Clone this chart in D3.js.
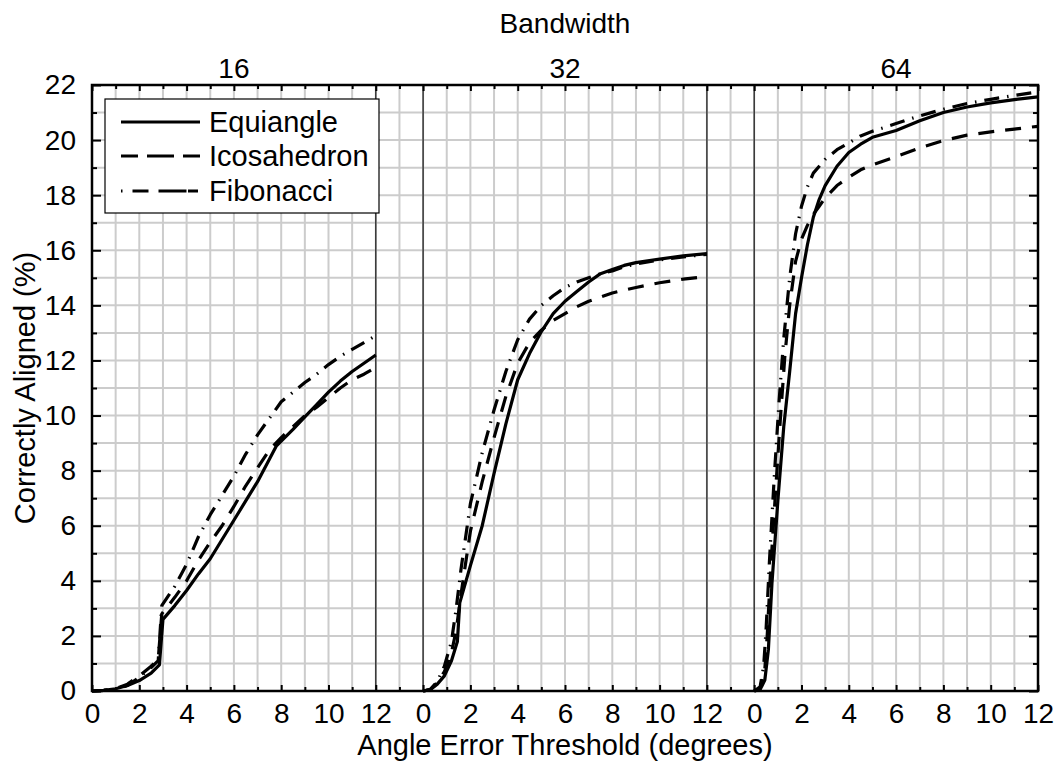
<!DOCTYPE html>
<html>
<head>
<meta charset="utf-8">
<script src="https://cdn.jsdelivr.net/npm/d3@7/dist/d3.min.js"></script>
<style>
  html, body { margin: 0; padding: 0; background: #fff; }
  svg { display: block; font-family: "Liberation Sans", Arial, Helvetica, sans-serif; }
</style>
</head>
<body>
<svg id="chart" width="1058" height="767"></svg>
<script>
// Bandwidth panels and sampling schemes
const bandwidths = [16, 32, 64];
const methods = ["Equiangle", "Icosahedron", "Fibonacci"];

// Axis ticks
const yTickLabels = [0, 2, 4, 6, 8, 10, 12, 14, 16, 18, 20, 22];
const xTickLabels = [0, 2, 4, 6, 8, 10, 12];

// Correctly aligned (%) vs. angle error threshold (degrees), bandwidth 16
const equiangle16 = [[0,0],[0.5,0.02],[1,0.08],[1.5,0.2],[2,0.38],[2.5,0.65],[2.85,0.95],[3.0,2.6],[3.5,3.1],[4,3.65],[4.5,4.25],[5,4.8],[5.5,5.5],[6,6.2],[6.5,6.9],[7,7.6],[7.8,8.9],[8.5,9.5],[9,9.95],[9.5,10.4],[10,10.85],[10.5,11.25],[11,11.6],[11.5,11.9],[12,12.2]];
const icosahedron16 = [[0,0],[0.5,0.02],[1,0.08],[1.5,0.25],[2,0.55],[2.5,0.9],[2.8,1.15],[2.95,2.8],[3.5,3.4],[4,4.0],[4.5,4.75],[5,5.4],[5.5,6.0],[6,6.7],[6.5,7.45],[7,8.1],[7.5,8.75],[8,9.2],[8.5,9.6],[9,10.0],[9.5,10.3],[10,10.65],[10.5,11.0],[11,11.3],[11.5,11.5],[12,11.75]];
const fibonacci16 = [[0,0],[0.5,0.02],[1,0.06],[1.5,0.2],[2,0.5],[2.5,0.85],[2.8,1.1],[2.95,3.1],[3.5,3.8],[4,4.6],[4.5,5.6],[5,6.4],[5.5,7.1],[6,7.8],[6.5,8.6],[7,9.3],[7.5,9.9],[8,10.5],[8.5,10.85],[9,11.2],[9.5,11.5],[10,11.85],[10.5,12.15],[11,12.4],[11.5,12.65],[12,12.9]];

// bandwidth 32
const equiangle32 = [[0,0],[0.3,0.05],[0.6,0.25],[0.9,0.55],[1.2,1.1],[1.45,1.8],[1.55,3.2],[2,4.55],[2.5,6.0],[3,7.9],[3.5,9.7],[4,11.3],[4.5,12.25],[5,13.05],[5.5,13.7],[6,14.15],[6.5,14.5],[7,14.85],[7.5,15.15],[8,15.3],[8.5,15.45],[9,15.55],[9.5,15.62],[10,15.68],[11,15.8],[12,15.88]];
const icosahedron32 = [[0,0],[0.3,0.05],[0.6,0.3],[0.9,0.7],[1.2,1.4],[1.4,2.2],[1.6,3.5],[2,5.8],[2.5,7.6],[3,9.2],[3.5,10.7],[4,11.9],[4.5,12.65],[5,13.1],[5.5,13.45],[6,13.7],[6.5,13.95],[7,14.15],[7.5,14.3],[8,14.45],[8.5,14.55],[9,14.65],[10,14.82],[11,14.95],[12,15.05]];
const fibonacci32 = [[0,0],[0.3,0.05],[0.6,0.35],[0.9,0.9],[1.2,1.8],[1.4,3.0],[1.6,4.4],[2,6.8],[2.5,8.65],[3,10.2],[3.5,11.6],[4,12.75],[4.5,13.5],[5,14.0],[5.5,14.35],[6,14.65],[6.5,14.85],[7,15.0],[7.5,15.15],[8,15.25],[8.5,15.4],[9,15.5],[9.5,15.58],[10,15.65],[11,15.76],[12,15.85]];

// bandwidth 64
const equiangle64 = [[0,0],[0.25,0.05],[0.45,0.4],[0.6,1.5],[0.75,3.9],[1,6.9],[1.25,9.6],[1.5,11.6],[1.75,13.7],[2,15.0],[2.25,16.2],[2.5,17.2],[2.75,17.85],[3,18.35],[3.5,19.05],[4,19.55],[4.5,19.85],[5,20.1],[6,20.35],[7,20.7],[8,21.0],[9,21.2],[10,21.35],[11,21.47],[12,21.57]];
const icosahedron64 = [[0,0],[0.25,0.1],[0.45,0.8],[0.55,2.0],[0.7,4.5],[0.9,7.2],[1.1,9.8],[1.3,12.2],[1.5,14.0],[1.75,15.6],[2,16.4],[2.25,16.9],[2.5,17.3],[2.75,17.6],[3,17.9],[3.5,18.35],[4,18.65],[4.5,18.92],[5,19.1],[6,19.4],[7,19.72],[8,19.98],[9,20.18],[10,20.3],[11,20.4],[12,20.5]];
const fibonacci64 = [[0,0],[0.25,0.15],[0.4,0.9],[0.5,2.2],[0.65,4.8],[0.85,7.8],[1.05,10.5],[1.25,12.8],[1.5,15.0],[1.75,16.6],[2,17.6],[2.25,18.3],[2.5,18.8],[3,19.3],[3.5,19.65],[4,19.9],[4.5,20.15],[5,20.32],[6,20.6],[7,20.88],[8,21.12],[9,21.33],[10,21.48],[11,21.62],[12,21.75]];

const seriesByBandwidth = [
  [equiangle16, icosahedron16, fibonacci16],
  [equiangle32, icosahedron32, fibonacci32],
  [equiangle64, icosahedron64, fibonacci64]
];

// Line styles per sampling scheme
const dashes = [null, "16,11", "15,8,1.5,8"];
const legendDashes = [null, "17,9,27,9,17", "1.5,10,16,10,28"];

const svg = d3.select("#chart");
const plot = { left: 92, right: 1038, top: 85, bottom: 691 };
const tickFont = 28;
const labelFont = 29;

// Panels sit side by side on one shared axis: 12 degrees each, 2-degree gaps
const panelSpan = 12, panelGap = 2, panelStep = panelSpan + panelGap;
const xMax = panelStep * (bandwidths.length - 1) + panelSpan;

const x = d3.scaleLinear().domain([0, xMax]).range([plot.left, plot.right]);
const y = d3.scaleLinear().domain([0, 22]).range([plot.bottom, plot.top]);

const g = svg.append("g");

// grid
const unitX = d3.range(0, xMax + 1);
const unitY = d3.range(0, 23);
g.append("g").selectAll("line").data(unitX).join("line")
  .attr("x1", d => x(d)).attr("x2", d => x(d))
  .attr("y1", plot.top).attr("y2", plot.bottom)
  .attr("stroke", "#cccccc").attr("stroke-width", 2);
g.append("g").selectAll("line").data(unitY).join("line")
  .attr("x1", plot.left).attr("x2", plot.right)
  .attr("y1", d => y(d)).attr("y2", d => y(d))
  .attr("stroke", "#cccccc").attr("stroke-width", 2);

// panel boundaries
const bounds = [];
bandwidths.forEach((b, i) => {
  if (i > 0) bounds.push(i * panelStep);
  if (i < bandwidths.length - 1) bounds.push(i * panelStep + panelSpan);
});
g.append("g").selectAll("line").data(bounds).join("line")
  .attr("x1", d => x(d)).attr("x2", d => x(d))
  .attr("y1", plot.top).attr("y2", plot.bottom)
  .attr("stroke", "#222").attr("stroke-width", 1.3);

// data curves
const lines = g.append("g");
seriesByBandwidth.forEach((group, p) => {
  const off = p * panelStep;
  const line = d3.line().x(d => x(off + d[0])).y(d => y(d[1]));
  group.forEach((data, m) => {
    lines.append("path")
      .attr("d", line(data))
      .attr("fill", "none")
      .attr("stroke", "#000")
      .attr("stroke-width", 3.2)
      .attr("stroke-linejoin", "round")
      .attr("stroke-dasharray", dashes[m]);
  });
});

// frame
g.append("rect")
  .attr("x", plot.left).attr("y", plot.top)
  .attr("width", plot.right - plot.left).attr("height", plot.bottom - plot.top)
  .attr("fill", "none").attr("stroke", "#000").attr("stroke-width", 2.5);

// x axes (bottom with labels, top ticks only); ticks point inward
const labelFor = v => {
  const local = v % panelStep;
  return (local <= panelSpan && xTickLabels.includes(local)) ? String(local) : "";
};
const isMajorX = v => labelFor(v) !== "";

const xBottom = g.append("g").attr("transform", `translate(0,${plot.bottom})`)
  .call(d3.axisBottom(x).tickValues(unitX).tickFormat(labelFor).tickSizeInner(-6).tickSizeOuter(0).tickPadding(12));
const xTop = g.append("g").attr("transform", `translate(0,${plot.top})`)
  .call(d3.axisTop(x).tickValues(unitX).tickFormat("").tickSizeInner(-6).tickSizeOuter(0));
[xBottom, xTop].forEach((ax, i) => {
  ax.select(".domain").remove();
  ax.selectAll(".tick line")
    .attr("stroke", "#000").attr("stroke-width", 2)
    .attr("y2", d => (i === 0 ? -1 : 1) * (isMajorX(d) ? 6 : 4));
});
xBottom.selectAll(".tick text")
  .attr("font-size", tickFont).attr("fill", "#000")
  .attr("font-family", "Liberation Sans, Arial, sans-serif");

// y axes
const yLeft = g.append("g").attr("transform", `translate(${plot.left},0)`)
  .call(d3.axisLeft(y).tickValues(unitY).tickFormat(d => yTickLabels.includes(d) ? d : "").tickSizeOuter(0).tickPadding(10));
const yRight = g.append("g").attr("transform", `translate(${plot.right},0)`)
  .call(d3.axisRight(y).tickValues(unitY).tickFormat("").tickSizeOuter(0));
[yLeft, yRight].forEach((ax, i) => {
  ax.select(".domain").remove();
  ax.selectAll(".tick line")
    .attr("stroke", "#000").attr("stroke-width", 2)
    .attr("x2", d => (i === 0 ? 1 : -1) * (yTickLabels.includes(d) ? 9 : 5));
});
yLeft.selectAll(".tick text")
  .attr("font-size", tickFont).attr("fill", "#000")
  .attr("font-family", "Liberation Sans, Arial, sans-serif");

// panel titles and headers
bandwidths.forEach((b, i) => {
  svg.append("text")
    .attr("x", x(i * panelStep + panelSpan / 2)).attr("y", 78)
    .attr("text-anchor", "middle").attr("font-size", tickFont)
    .text(b);
});
svg.append("text")
  .attr("x", x(xMax / 2)).attr("y", 33)
  .attr("text-anchor", "middle").attr("font-size", labelFont - 1)
  .text("Bandwidth");
svg.append("text")
  .attr("x", x(xMax / 2)).attr("y", 755)
  .attr("text-anchor", "middle").attr("font-size", labelFont)
  .text("Angle Error Threshold (degrees)");
svg.append("text")
  .attr("transform", `translate(35,${(plot.top + plot.bottom) / 2}) rotate(-90)`)
  .attr("text-anchor", "middle").attr("font-size", labelFont)
  .text("Correctly Aligned (%)");

// legend
const lg = svg.append("g");
lg.append("rect")
  .attr("x", 105).attr("y", 99).attr("width", 274).attr("height", 114)
  .attr("fill", "#fff").attr("stroke", "#000").attr("stroke-width", 1.2);
const rowY = [122, 156, 191];
methods.forEach((name, i) => {
  lg.append("line")
    .attr("x1", 121).attr("x2", 200).attr("y1", rowY[i]).attr("y2", rowY[i])
    .attr("stroke", "#000").attr("stroke-width", 3.2)
    .attr("stroke-dasharray", legendDashes[i]);
  lg.append("text")
    .attr("x", 209).attr("y", rowY[i]).attr("dy", "0.36em")
    .attr("font-size", labelFont)
    .text(name);
});
</script>
</body>
</html>
